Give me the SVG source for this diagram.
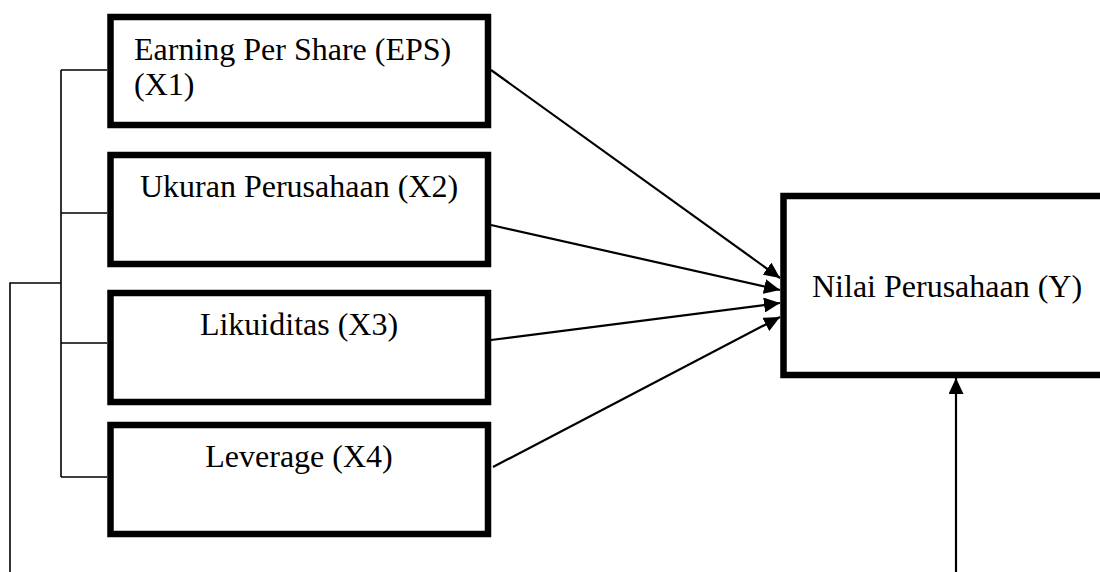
<svg xmlns="http://www.w3.org/2000/svg" width="1100" height="572" viewBox="0 0 1100 572">
<style>
.box{fill:#fff;stroke:#000;stroke-width:6.5}
.t{font-family:"Liberation Serif","Times New Roman",serif;font-size:32px;fill:#000}
.c{text-anchor:middle}
.ln{stroke:#000;stroke-width:2.2;fill:none}
.br{stroke:#000;stroke-width:1.6;fill:none}
</style>
<defs>
<marker id="ah" markerUnits="userSpaceOnUse" markerWidth="17" markerHeight="15" viewBox="0 0 17 15" refX="16" refY="7.5" orient="auto">
<path d="M0,0 L16,7.5 L0,15 Z" fill="#000"/>
</marker>
</defs>
<rect width="1100" height="572" fill="#fff"/>
<g id="connectors">
<path class="br" d="M61,70 V477 M61,70 H107 M61,213 H107 M61,343 H107 M61,477 H107"/>
<path class="br" d="M10,572 V283 H61"/>
<line class="ln" x1="491" y1="70" x2="780" y2="278" marker-end="url(#ah)"/>
<line class="ln" x1="491" y1="225" x2="780" y2="290" marker-end="url(#ah)"/>
<line class="ln" x1="491" y1="340" x2="780" y2="303" marker-end="url(#ah)"/>
<line class="ln" x1="493" y1="467" x2="780" y2="317" marker-end="url(#ah)"/>
<line class="ln" x1="956" y1="572" x2="956" y2="378" marker-end="url(#ah)"/>
</g>
<g id="x1">
<rect class="box" x="110.5" y="17" width="377.5" height="108"/>
<text class="t" x="134" y="60">Earning Per Share (EPS)</text>
<text class="t" x="134" y="95">(X1)</text>
</g>
<g id="x2">
<rect class="box" x="110.5" y="155" width="377.5" height="109"/>
<text class="t c" x="299" y="197">Ukuran Perusahaan (X2)</text>
</g>
<g id="x3">
<rect class="box" x="110.5" y="293" width="377.5" height="109"/>
<text class="t c" x="299" y="335">Likuiditas (X3)</text>
</g>
<g id="x4">
<rect class="box" x="110.5" y="425" width="377.5" height="109"/>
<text class="t c" x="299" y="467">Leverage (X4)</text>
</g>
<g id="y">
<rect class="box" x="783.5" y="196" width="330" height="179"/>
<text class="t" x="812" y="297">Nilai Perusahaan (Y)</text>
</g>
</svg>
